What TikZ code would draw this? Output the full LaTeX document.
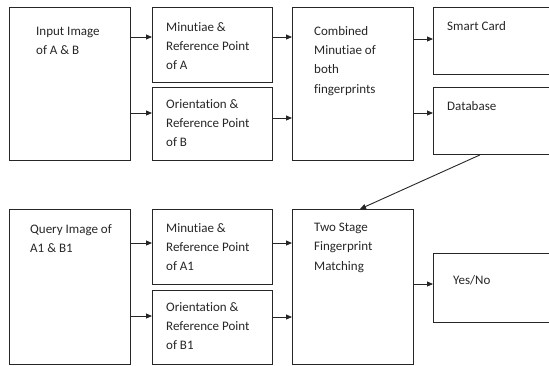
\documentclass[tikz,border=0pt]{standalone}
\usepackage{fontspec}
\setmainfont[Ligatures={NoCommon}]{Carlito}
\usetikzlibrary{arrows.meta}
\begin{document}
\begin{tikzpicture}[x=1pt,y=-1pt,
  box/.style={draw=black!85,line width=0.9pt,rectangle,inner sep=0pt,anchor=north west},
  txt/.style={anchor=north west,align=left,inner sep=0pt,font=\fontsize{13}{19.3}\selectfont,text=black!85},
  arr/.style={draw=black!85,line width=0.9pt,-{Triangle[length=6pt,width=5pt]}}]
\useasboundingbox (0,0) rectangle (549,365);
% boxes
\node[box,minimum width=121pt,minimum height=153pt] (in) at (9,7) {};
\node[box,minimum width=120pt,minimum height=75pt] (ma) at (152,7) {};
\node[box,minimum width=120pt,minimum height=73pt] (ob) at (152,87) {};
\node[box,minimum width=121pt,minimum height=153pt] (cm) at (292,7) {};
\node[box,minimum width=130pt,minimum height=67pt] (sc) at (433,7) {};
\node[box,minimum width=130pt,minimum height=67pt] (db) at (433,87) {};
\node[box,minimum width=121pt,minimum height=155pt] (qi) at (9,209) {};
\node[box,minimum width=120pt,minimum height=75pt] (ma1) at (152,209) {};
\node[box,minimum width=120pt,minimum height=74pt] (ob1) at (152,290) {};
\node[box,minimum width=121pt,minimum height=155pt] (ts) at (292,209) {};
\node[box,minimum width=130pt,minimum height=69pt] (yn) at (433,253) {};
% texts
\node[txt] (tin) at (36,27) {Input Image\\of A \& B};
\node[txt] (tma) at (166,22) {Minutiae \&\\Reference Point\\of A};
\node[txt] (tob) at (166,99) {Orientation \&\\Reference Point\\of B};
\node[txt] (tcm) at (314,26) {Combined\\Minutiae of\\both\\fingerprints};
\node[txt] (tsc) at (447,21) {Smart Card};
\node[txt] (tdb) at (447,101) {Database};
\node[txt] (tqi) at (30,224) {Query Image of\\A1 \& B1};
\node[txt] (tma1) at (166,223) {Minutiae \&\\Reference Point\\of A1};
\node[txt] (tob1) at (166,302) {Orientation \&\\Reference Point\\of B1};
\node[txt] (tts) at (314,223) {Two Stage\\Fingerprint\\Matching};
\node[txt] (tyn) at (453,275) {Yes/No};
% connectors
\draw[arr] (in.east |- 0,37) -- (ma.west |- 0,37);
\draw[arr] (in.east |- 0,113) -- (ob.west |- 0,113);
\draw[arr] (ma.east |- 0,37) -- (cm.west |- 0,37);
\draw[arr] (ob.east |- 0,118) -- (cm.west |- 0,118);
\draw[arr] (cm.east |- 0,39) -- (sc.west |- 0,39);
\draw[arr] (cm.east |- 0,113) -- (db.west |- 0,113);
\draw[arr] (db.south -| 480,0) -- (ts.north -| 360,0);
\draw[arr] (qi.east |- 0,243) -- (ma1.west |- 0,243);
\draw[arr] (qi.east |- 0,316) -- (ob1.west |- 0,316);
\draw[arr] (ma1.east |- 0,243) -- (ts.west |- 0,243);
\draw[arr] (ob1.east |- 0,317) -- (ts.west |- 0,317);
\draw[arr] (ts.east |- 0,284) -- (yn.west |- 0,284);
\end{tikzpicture}
\end{document}
